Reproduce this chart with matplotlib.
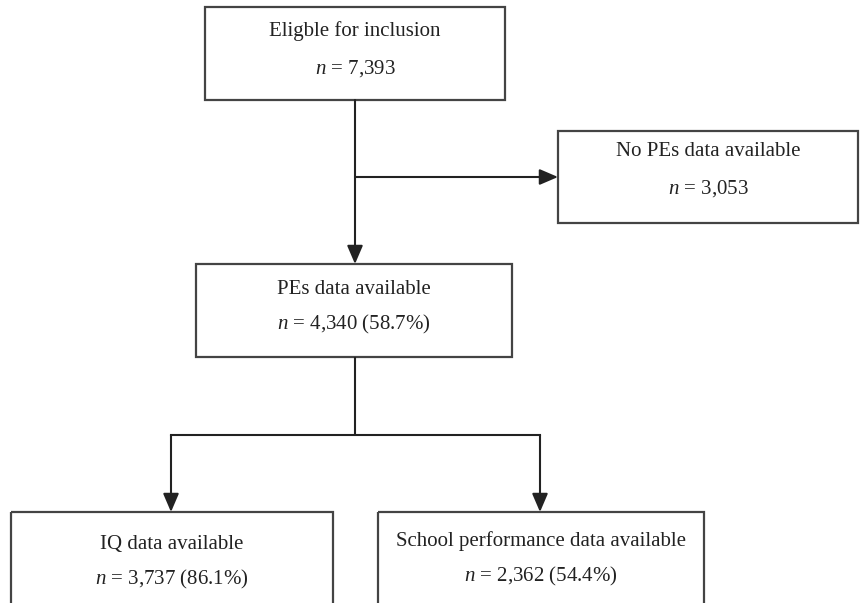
import matplotlib.pyplot as plt
from matplotlib.patches import Rectangle

plt.rcParams['font.family'] = ['Liberation Serif', 'DejaVu Serif']
plt.rcParams['mathtext.fontset'] = 'custom'
plt.rcParams['mathtext.rm'] = 'Liberation Serif'
plt.rcParams['mathtext.it'] = 'Liberation Serif:italic'

# box texts
labels = ["Eligble for inclusion", "No PEs data available", "PEs data available",
          "IQ data available", "School performance data available"]
counts = ["7,393", "3,053", "4,340", "3,737", "2,362"]
percents = ["", "", "58.7%", "86.1%", "54.4%"]

# box geometry in pixel coords: x0, y0, x1, y1
boxes = [(205, 7, 505, 100), (558, 131, 858, 223), (196, 264, 512, 357),
         (11, 512, 333, 620), (378, 512, 704, 620)]
line1_y = [31, 151, 289, 544, 541]
line2_y = [69, 189, 324, 579, 576]

fig = plt.figure(figsize=(8.6, 6.03), dpi=100)
ax = fig.add_axes([0, 0, 1, 1])
ax.set_xlim(0, 860)
ax.set_ylim(603, 0)
ax.axis('off')

edge = '#444444'
for i, (x0, y0, x1, y1) in enumerate(boxes):
    ax.add_patch(Rectangle((x0, y0), x1 - x0, y1 - y0, fill=False,
                           edgecolor=edge, linewidth=1.6))
    cx = (x0 + x1) / 2
    ax.text(cx, line1_y[i], labels[i], ha='center', va='center',
            fontsize=15, color='#222222')
    txt = "$n$ = " + counts[i]
    if percents[i]:
        txt += " (" + percents[i] + ")"
    ax.text(cx, line2_y[i], txt, ha='center', va='center',
            fontsize=15, color='#222222')

lc = '#222222'
lw = 1.5
aprops = dict(arrowstyle='-|>,head_length=0.7,head_width=0.3',
              color=lc, lw=lw, shrinkA=0, shrinkB=0, mutation_scale=16)

# main trunk
ax.annotate('', xy=(355, 264), xytext=(355, 100), arrowprops=aprops)
ax.annotate('', xy=(558, 177), xytext=(355, 177), arrowprops=aprops)

# branch to bottom boxes
ax.plot([355, 355], [357, 435], color=lc, lw=lw, solid_capstyle='butt')
ax.plot([171, 540], [435, 435], color=lc, lw=lw, solid_capstyle='projecting')
ax.annotate('', xy=(171, 512), xytext=(171, 435), arrowprops=aprops)
ax.annotate('', xy=(540, 512), xytext=(540, 435), arrowprops=aprops)

fig.savefig('out.png', dpi=100)
